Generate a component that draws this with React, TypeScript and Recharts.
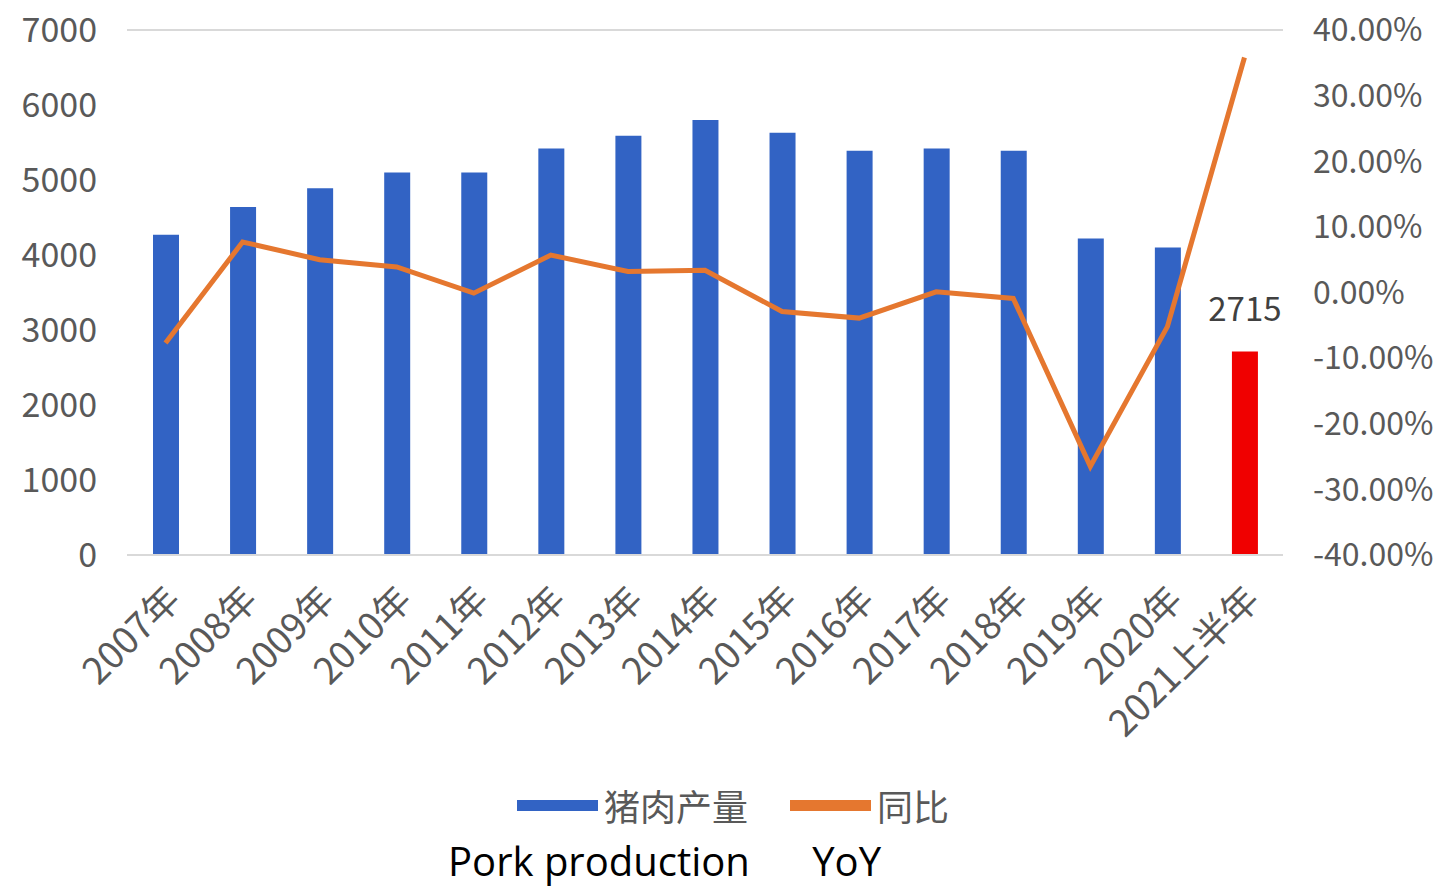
import React from "react";
import {
  ComposedChart,
  Bar,
  Line,
  XAxis,
  YAxis,
  CartesianGrid,
  Legend,
  Cell,
  LabelList,
} from "recharts";

const categories = [
  "2007年", "2008年", "2009年", "2010年", "2011年", "2012年", "2013年", "2014年",
  "2015年", "2016年", "2017年", "2018年", "2019年", "2020年", "2021上半年",
];
const production = [
  4270, 4640, 4890, 5100, 5100, 5420, 5590, 5800,
  5630, 5390, 5420, 5390, 4220, 4100, 2715,
];
const yoy = [
  -0.077, 0.077, 0.05, 0.039, -0.001, 0.057, 0.032, 0.034,
  -0.029, -0.039, 0.001, -0.009, -0.265, -0.052, 0.358,
];
const leftTicks = [0, 1000, 2000, 3000, 4000, 5000, 6000, 7000];
const rightTicks = [-0.4, -0.3, -0.2, -0.1, 0, 0.1, 0.2, 0.3, 0.4];
const seriesNames = ["猪肉产量", "同比"];
const captionText = "Pork production      YoY";

const BLUE = "#3263C4";
const RED = "#F00000";
const ORANGE = "#E5772F";
const TEXT = "#595959";
const FONT = "'Noto Sans CJK SC', 'Noto Sans', sans-serif";

const data = categories.map((c, i) => ({ cat: c, prod: production[i], yoy: yoy[i] }));
const lastIndex = data.length - 1;
const seriesColors = [BLUE, ORANGE];

const CatTick = (props: any) => {
  const { x, y, payload } = props;
  return (
    <g transform={`translate(${x + 8},${y + 30})`}>
      <text
        x={0}
        y={0}
        dy="0.35em"
        textAnchor="end"
        transform="rotate(-45)"
        fontSize={37}
        fill={TEXT}
        fontFamily={FONT}
      >
        {payload.value}
      </text>
    </g>
  );
};

const ValueLabel = (props: any) => {
  const { x, y, width, value, index } = props;
  if (index !== lastIndex) return null;
  return (
    <text
      x={x + width / 2}
      y={y - 30}
      textAnchor="middle"
      fontSize={33}
      fill="#404040"
      fontFamily={FONT}
    >
      {value}
    </text>
  );
};

const LegendContent = (props: any) => {
  const payload = props.payload || [];
  const lefts = [517, 790];
  const entries = seriesNames.map((n) => payload.find((p: any) => p.value === n) || { value: n });
  return (
    <div style={{ position: "relative", width: 1445, height: 152 }}>
      {entries.map((p: any, i: number) => (
        <div
          key={i}
          style={{
            position: "absolute",
            left: lefts[i],
            top: 48,
            height: 44,
            display: "flex",
            alignItems: "center",
          }}
        >
          <div style={{ width: 81, height: 11, background: seriesColors[i] }} />
          <span
            style={{
              marginLeft: 6,
              fontSize: 36,
              color: TEXT,
              fontFamily: FONT,
              lineHeight: "44px",
            }}
          >
            {p.value}
          </span>
        </div>
      ))}
      <div
        style={{
          position: "absolute",
          left: 448,
          top: 104,
          fontSize: 40,
          lineHeight: "44px",
          color: "#000",
          fontFamily: "'Open Sans', Lato, sans-serif",
          whiteSpace: "pre",
        }}
      >
        {captionText}
      </div>
    </div>
  );
};

export default function App() {
  return (
    <div style={{ position: "absolute", left: 0, top: 0, width: 1445, height: 887, background: "#fff" }}>
      <ComposedChart
        width={1445}
        height={887}
        data={data}
        margin={{ top: 30, right: 0, bottom: 0, left: 0 }}
        barCategoryGap={0}
      >
        <CartesianGrid vertical={false} stroke="#D9D9D9" strokeWidth={2} />
        <XAxis
          dataKey="cat"
          interval={0}
          height={180}
          tickLine={false}
          axisLine={{ stroke: "#D9D9D9", strokeWidth: 2 }}
          tick={<CatTick />}
        />
        <YAxis
          yAxisId="left"
          orientation="left"
          width={127}
          domain={[0, 7000]}
          ticks={leftTicks}
          axisLine={false}
          tickLine={false}
          tickSize={0}
          tickMargin={30}
          tick={{ fontSize: 34, fill: TEXT, fontFamily: FONT }}
        />
        <YAxis
          yAxisId="right"
          orientation="right"
          width={162}
          domain={[-0.4, 0.4]}
          ticks={rightTicks}
          axisLine={false}
          tickLine={false}
          tickSize={0}
          tickMargin={30}
          tickFormatter={(v: number) => (v * 100).toFixed(2) + "%"}
          tick={{ fontSize: 32, fill: TEXT, fontFamily: FONT }}
        />
        <Legend
          verticalAlign="bottom"
          content={<LegendContent />}
          wrapperStyle={{ left: 0, bottom: 0, width: 1445, height: 152 }}
        />
        <Bar
          yAxisId="left"
          dataKey="prod"
          name={seriesNames[0]}
          fill={BLUE}
          barSize={26}
          isAnimationActive={false}
        >
          {data.map((d, i) => (
            <Cell key={i} fill={i === lastIndex ? RED : BLUE} />
          ))}
          <LabelList dataKey="prod" content={<ValueLabel />} />
        </Bar>
        <Line
          yAxisId="right"
          dataKey="yoy"
          name={seriesNames[1]}
          type="linear"
          stroke={ORANGE}
          strokeWidth={5}
          dot={false}
          activeDot={false}
          isAnimationActive={false}
        />
      </ComposedChart>
    </div>
  );
}
